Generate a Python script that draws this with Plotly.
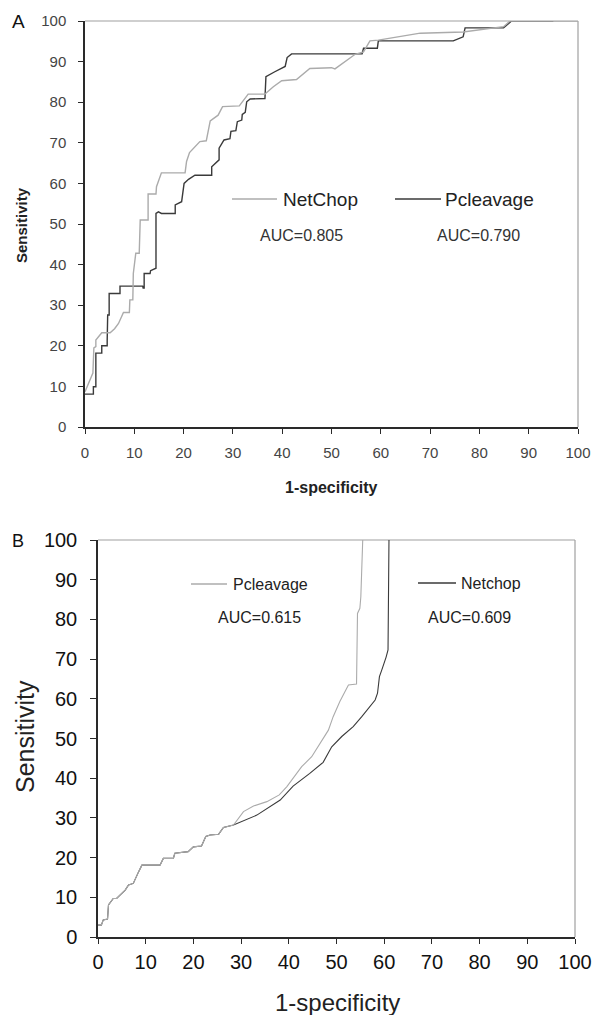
import plotly.graph_objects as go

# ---------------- Panel A data ----------------
a_netchop_x = [0, 1.0, 1.6, 1.8, 2.2, 2.2, 3.0, 3.4, 5.1, 6.0, 6.8, 7.6, 7.8, 9.0, 9.1, 9.7, 9.8, 10.3, 11.0,
               11.2, 12.8, 12.8, 14.4, 14.5, 15.5, 20.3, 20.6, 21.2, 22.0, 23.3, 24.6, 25.4, 27.0, 27.9, 31.3,
               33.1, 36.5, 38.2, 39.9, 42.9, 45.6, 50.0, 50.7, 54.8, 56.5, 57.8, 59.5, 68.0, 76.7, 84.9, 86.2, 100]
a_netchop_y = [8.7, 11.5, 13.3, 19.5, 19.8, 21.4, 22.5, 23.2, 23.2, 24.2, 25.5, 27.5, 28.2, 28.2, 31.3, 31.3, 37.8,
               42.8, 42.8, 51.0, 51.0, 57.4, 57.4, 59.2, 62.6, 62.6, 65.4, 67.6, 68.6, 70.3, 70.5, 75.4, 76.8,
               78.9, 79.1, 82.0, 82.0, 83.8, 85.3, 85.6, 88.3, 88.5, 88.2, 91.8, 92.4, 95.1, 95.3, 97.0, 97.3,
               98.6, 100, 100]

a_pcleavage_x = [0, 1.7, 1.7, 2.2, 2.2, 3.4, 3.4, 4.5, 4.5, 4.6, 4.9, 4.9, 7.1, 7.1, 11.7, 11.8, 12.0, 12.0, 13.2,
                 13.3, 14.4, 14.4, 14.9, 15.5, 18.3, 18.3, 19.6, 20.1, 21.0, 22.3, 25.7, 25.7, 27.2, 27.2, 28.2,
                 29.4, 29.6, 30.6, 30.9, 31.8, 31.9, 32.5, 32.8, 33.5, 36.5, 36.7, 38.5, 40.6, 41.0, 41.9, 56.2,
                 56.5, 59.3, 59.5, 74.7, 76.7, 77.1, 84.9, 86.5, 95]
a_pcleavage_y = [8.1, 8.1, 9.9, 9.9, 18.2, 18.2, 20.0, 20.0, 21.2, 27.6, 27.6, 32.9, 32.9, 34.7, 34.7, 34.2, 34.2,
                 37.8, 37.8, 38.5, 39.1, 52.6, 53.0, 52.6, 52.6, 54.7, 55.5, 60.0, 61.0, 62.0, 62.0, 64.1, 65.8,
                 68.7, 70.7, 71.0, 72.8, 73.0, 75.2, 75.6, 77.0, 77.5, 80.1, 80.8, 80.9, 86.3, 87.5, 88.8, 91.0,
                 91.9, 91.9, 93.3, 93.3, 95.1, 95.1, 96.1, 98.3, 98.3, 100, 100]

# ---------------- Panel B data ----------------
b_pcleavage_x = [0, 0.7, 1.1, 2.0, 2.2, 3.2, 3.9, 5.0, 5.7, 6.4, 7.4, 8.5, 9.2, 13.0, 13.7, 15.8, 16.1, 18.9, 20.0,
                 21.7, 22.6, 23.5, 25.3, 26.3, 28.4, 30.5, 32.6, 35.4, 38.0, 39.6, 40.9, 42.7, 44.8, 46.5, 48.3,
                 49.3, 50.7, 52.5, 54.2, 54.4, 54.9, 55.1, 55.5]
b_pcleavage_y = [3.0, 3.0, 4.3, 4.5, 8.1, 9.7, 9.7, 11.0, 11.8, 13.1, 13.5, 16.4, 18.1, 18.1, 19.8, 19.8, 21.1,
                 21.5, 22.7, 22.9, 25.3, 25.7, 25.9, 27.6, 28.2, 31.6, 33.0, 34.1, 35.8, 37.9, 40.0, 42.9, 45.4,
                 48.8, 52.1, 55.5, 59.3, 63.5, 63.7, 81.5, 82.8, 85.7, 100]

b_netchop_x = [0, 0.7, 1.1, 2.0, 2.2, 3.2, 3.9, 5.0, 5.7, 6.4, 7.4, 8.5, 9.2, 13.0, 13.7, 15.8, 16.1, 18.9, 20.0,
               21.7, 22.6, 23.5, 25.3, 26.3, 28.4, 33.3, 38.2, 40.9, 44.4, 47.2, 49.0, 51.1, 53.5, 55.3, 57.0,
               58.1, 58.6, 59.0, 59.5, 60.0, 60.4, 60.8, 61.0]
b_netchop_y = [3.0, 3.0, 4.3, 4.5, 8.1, 9.7, 9.7, 11.0, 11.8, 13.1, 13.5, 16.4, 18.1, 18.1, 19.8, 19.8, 21.1,
               21.5, 22.7, 22.9, 25.3, 25.7, 25.9, 27.6, 28.2, 30.7, 34.5, 38.0, 41.2, 44.0, 47.9, 50.5, 53.0,
               55.5, 58.0, 59.7, 61.4, 65.6, 67.3, 68.9, 70.5, 72.3, 100]

tick_vals = [0, 10, 20, 30, 40, 50, 60, 70, 80, 90, 100]
tick_text = [str(v) for v in tick_vals]

LIGHT = "#ababab"
DARK = "#3a3a3a"
W, H = 593, 1015

fig = go.Figure()
fig.add_trace(go.Scatter(x=a_pcleavage_x, y=a_pcleavage_y, mode="lines", line=dict(color=DARK, width=1.4),
                         xaxis="x", yaxis="y", showlegend=False))
fig.add_trace(go.Scatter(x=a_netchop_x, y=a_netchop_y, mode="lines", line=dict(color=LIGHT, width=1.4),
                         xaxis="x", yaxis="y", showlegend=False))
fig.add_trace(go.Scatter(x=b_netchop_x, y=b_netchop_y, mode="lines", line=dict(color=DARK, width=1.1),
                         xaxis="x2", yaxis="y2", showlegend=False))
fig.add_trace(go.Scatter(x=b_pcleavage_x, y=b_pcleavage_y, mode="lines", line=dict(color=LIGHT, width=1.1),
                         xaxis="x2", yaxis="y2", showlegend=False))

def px_x(p):
    return p / W

def px_y(p):
    return 1 - p / H

fontA = "Liberation Sans, Arial, sans-serif"

ax_common = dict(range=[0, 100], tickmode="array", tickvals=tick_vals, ticktext=tick_text, automargin=False,
                 showline=True, linecolor="#2a2a2a", linewidth=1.5, ticks="outside", tickcolor="#2a2a2a",
                 tickwidth=1.2, showgrid=False, zeroline=False, fixedrange=True)

fig.update_layout(
    template="none",
    width=W, height=H, margin=dict(l=0, r=0, t=0, b=0, pad=0), autosize=False,
    paper_bgcolor="white", plot_bgcolor="white",
    xaxis=dict(domain=[px_x(85), px_x(578)], anchor="y", ticklen=5, ticklabelstandoff=6,
               tickfont=dict(family=fontA, size=15, color="#444"), **ax_common),
    yaxis=dict(domain=[px_y(427), px_y(21)], anchor="x", ticklen=5, ticklabelstandoff=9,
               tickfont=dict(family=fontA, size=15, color="#444"), **ax_common),
    xaxis2=dict(domain=[px_x(98), px_x(575)], anchor="y2", ticklen=5, ticklabelstandoff=1,
                tickfont=dict(family=fontA, size=20, color="#111"), **ax_common),
    yaxis2=dict(domain=[px_y(937), px_y(540)], anchor="x2", ticklen=6, ticklabelstandoff=9,
                tickfont=dict(family=fontA, size=20, color="#111"), **ax_common),
)

shapes = []
# top and right borders (light gray)
for xr, yr in (("x", "y"), ("x2", "y2")):
    shapes.append(dict(type="line", xref=f"{xr} domain", yref=f"{yr} domain", x0=0, x1=1, y0=1, y1=1,
                       line=dict(color="#a0a0a0", width=1.2), layer="below"))
    shapes.append(dict(type="line", xref=f"{xr} domain", yref=f"{yr} domain", x0=1, x1=1, y0=0, y1=1,
                       line=dict(color="#a0a0a0", width=1.2), layer="below"))

# legend sample lines
def leg_line(x0, x1, y, color):
    shapes.append(dict(type="line", xref="paper", yref="paper", x0=px_x(x0), x1=px_x(x1),
                       y0=px_y(y), y1=px_y(y), line=dict(color=color, width=1.3)))

leg_line(232, 277, 199, LIGHT)
leg_line(395, 441, 199, DARK)
leg_line(191, 227, 584, LIGHT)
leg_line(418, 456, 583, DARK)
fig.update_layout(shapes=shapes)

ann = []
def text(x, y, s, size, color="#222", anchor="left", bold=False, angle=0, yanchor="middle"):
    ann.append(dict(xref="paper", yref="paper", x=px_x(x), y=px_y(y), text=(f"<b>{s}</b>" if bold else s),
                    showarrow=False, xanchor=anchor, yanchor=yanchor, textangle=angle,
                    font=dict(family=fontA, size=size, color=color)))

# panel letters
text(18, 22, "A", 19, "#111", anchor="center")
text(18, 541, "B", 18, "#111", anchor="center")

# Panel A legend
text(281, 199, "NetChop", 19, "#222")
text(443, 199, "Pcleavage", 19, "#222")
text(258, 235, "AUC=0.805", 16, "#333")
text(435, 235, "AUC=0.790", 16, "#333")

# Panel B legend
text(231, 584, "Pcleavage", 16, "#222")
text(459, 583, "Netchop", 16, "#222")
text(216, 617, "AUC=0.615", 16, "#222")
text(426, 617, "AUC=0.609", 16, "#222")

# axis titles
text(331, 487, "1-specificity", 16, "#222", anchor="center", bold=True)
text(21, 225, "Sensitivity", 15, "#222", anchor="center", bold=True, angle=-90)
text(337, 1002, "1-specificity", 24, "#222", anchor="center")
text(25, 737, "Sensitivity", 25, "#222", anchor="center", angle=-90)

fig.update_layout(annotations=ann)
fig.write_html("out.html", config={"displayModeBar": False},
               post_script="document.body.style.margin='0';document.body.style.overflow='hidden';")
